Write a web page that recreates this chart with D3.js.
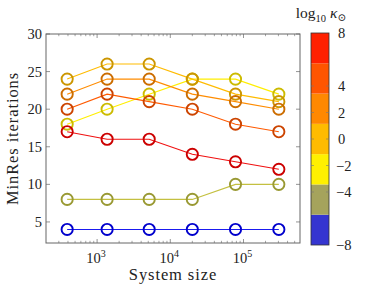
<!DOCTYPE html>
<html>
<head>
<meta charset="utf-8">
<script src="https://cdn.jsdelivr.net/npm/d3@7"></script>
<style>
  body { margin: 0; background: #fff; }
  text { font-family: "Liberation Serif", "DejaVu Serif", serif; fill: #222; }
</style>
</head>
<body>
<div id="chart"></div>
<script>
'use strict';

// system sizes (x) and kappa values per series
const sizes = [390, 1370, 5150, 20000, 77800, 304000];
const kappas = [-8, -4, -2, 0, 2, 4, 8];
const iterations = [
  [4, 4, 4, 4, 4, 4],
  [8, 8, 8, 8, 10, 10],
  [18, 20, 22, 24, 24, 22],
  [24, 26, 26, 24, 22, 21],
  [22, 24, 24, 22, 21, 20],
  [20, 22, 21, 20, 18, 17],
  [17, 16, 16, 14, 13, 12]
];
const yTicks = [5, 10, 15, 20, 25, 30];
const xTicks = [1e3, 1e4, 1e5];
const cbTicks = [8, 4, 2, 0, -2, -4, -8];

// colours of the 7 colormap bins (bottom to top)
const binColors = ["#3535d0", "#a5a35c", "#fff000", "#ffbb00", "#ff8800", "#ff5500", "#ff2000"];
const lineColors = ["#1a1af0", "#c4c040", "#ffee00", "#ffbb00", "#ff8c00", "#ff5a00", "#f01010"];
const markColors = ["#0000cc", "#999933", "#ccbb00", "#cc9600", "#cc6d00", "#cc4400", "#cc0000"];

const W = 365, H = 291;
const margin = {top: 34, right: 65, bottom: 48, left: 46};
const width = 300 - margin.left, height = 243 - margin.top;

const svg = d3.select("#chart").append("svg")
  .attr("width", W).attr("height", H);
const g = svg.append("g")
  .attr("transform", "translate(" + margin.left + "," + margin.top + ")");

// x: log scale, limits enlarged by 10% of the data range
const lx = d3.extent(sizes).map(Math.log10);
const pad = (lx[1] - lx[0]) * 0.1;
const x = d3.scaleLog()
  .domain([Math.pow(10, lx[0] - pad), Math.pow(10, lx[1] + pad)])
  .range([0, width]);
const y = d3.scaleLinear().domain([2.2, 30]).range([height, 0]);

const axisCol = "#666";

// minor + major ticks on x (bottom and top, inward)
const minor = [];
for (let e = 2; e <= 5; e++) for (let m = 2; m <= 9; m++) {
  const v = m * Math.pow(10, e);
  if (v > x.domain()[0] && v < x.domain()[1]) minor.push(v);
}
minor.forEach(v => {
  g.append("line").attr("x1", x(v)).attr("x2", x(v)).attr("y1", height).attr("y2", height - 2.2)
    .attr("stroke", axisCol).attr("stroke-width", 0.6);
  g.append("line").attr("x1", x(v)).attr("x2", x(v)).attr("y1", 0).attr("y2", 2.2)
    .attr("stroke", axisCol).attr("stroke-width", 0.6);
});
xTicks.forEach(v => {
  g.append("line").attr("x1", x(v)).attr("x2", x(v)).attr("y1", height).attr("y2", height - 4)
    .attr("stroke", axisCol).attr("stroke-width", 0.7);
  g.append("line").attr("x1", x(v)).attr("x2", x(v)).attr("y1", 0).attr("y2", 4)
    .attr("stroke", axisCol).attr("stroke-width", 0.7);
  const t = g.append("text").attr("x", x(v) - 1).attr("y", height + 20)
    .attr("text-anchor", "middle").style("font-size", "14.5px");
  t.append("tspan").text("10");
  t.append("tspan").attr("dy", -6).style("font-size", "10px").text(Math.round(Math.log10(v)));
});

yTicks.forEach(v => {
  g.append("line").attr("x1", 0).attr("x2", 4).attr("y1", y(v)).attr("y2", y(v))
    .attr("stroke", axisCol).attr("stroke-width", 0.7);
  g.append("line").attr("x1", width).attr("x2", width - 4).attr("y1", y(v)).attr("y2", y(v))
    .attr("stroke", axisCol).attr("stroke-width", 0.7);
  g.append("text").attr("x", -4).attr("y", y(v) + 5)
    .attr("text-anchor", "end").style("font-size", "14.5px").text(v);
});

g.append("rect").attr("width", width).attr("height", height)
  .attr("fill", "none").attr("stroke", axisCol).attr("stroke-width", 1);

// colormap bin for a kappa value
const cb = d3.scaleLinear().domain([-8, 8]).range([245, 33]);
const bin = k => Math.min(6, Math.floor((k + 8) / (16 / 7)));

const line = d3.line().x((d, i) => x(sizes[i])).y(d => y(d));

kappas.forEach((k, s) => {
  const b = bin(k);
  g.append("path").datum(iterations[s])
    .attr("d", line)
    .attr("fill", "none").attr("stroke", lineColors[b]).attr("stroke-width", 1.1);
  g.selectAll(null).data(iterations[s]).enter().append("circle")
    .attr("cx", (d, i) => x(sizes[i]))
    .attr("cy", d => y(d))
    .attr("r", 5.6)
    .attr("fill", "none")
    .attr("stroke", markColors[b])
    .attr("stroke-width", 1.9);
});

// axis labels
svg.append("text").attr("x", margin.left + width / 2).attr("y", 280)
  .attr("text-anchor", "middle").style("font-size", "16.5px").style("letter-spacing", "0.9px")
  .text("System size");
svg.append("text").attr("transform", "translate(18," + (margin.top + height / 2) + ") rotate(-90)")
  .attr("text-anchor", "middle").style("font-size", "16.5px").style("letter-spacing", "0.9px")
  .text("MinRes iterations");

// colorbar
const cbx = 311, cbw = 18;
const step = 16 / 7;
binColors.forEach((c, i) => {
  svg.append("rect")
    .attr("x", cbx).attr("y", cb(-8 + (i + 1) * step))
    .attr("width", cbw).attr("height", cb(-8 + i * step) - cb(-8 + (i + 1) * step))
    .attr("fill", c);
});
svg.append("rect").attr("x", cbx).attr("y", cb(8)).attr("width", cbw).attr("height", cb(-8) - cb(8))
  .attr("fill", "none").attr("stroke", "#333").attr("stroke-width", 0.8);
cbTicks.forEach(v => {
  if (v !== 8 && v !== -8) {
    svg.append("line").attr("x1", cbx).attr("x2", cbx + 3).attr("y1", cb(v)).attr("y2", cb(v))
      .attr("stroke", "#777").attr("stroke-width", 0.6);
    svg.append("line").attr("x1", cbx + cbw).attr("x2", cbx + cbw - 3).attr("y1", cb(v)).attr("y2", cb(v))
      .attr("stroke", "#777").attr("stroke-width", 0.6);
  }
  svg.append("text").attr("x", v < 0 ? 336 : 338).attr("y", cb(v) + 5)
    .style("font-size", "14.5px").text(v < 0 ? "\u2212" + Math.abs(v) : v);
});

const title = svg.append("text").attr("x", 321).attr("y", 18)
  .attr("text-anchor", "middle").style("font-size", "15.5px");
title.append("tspan").text("log");
title.append("tspan").attr("dy", 4).style("font-size", "10.5px").text("10");
title.append("tspan").attr("dy", -4).style("font-style", "italic").text(" \u03ba");
title.append("tspan").attr("dy", 3).style("font-size", "10.5px").text("\u2299");
</script>
</body>
</html>
